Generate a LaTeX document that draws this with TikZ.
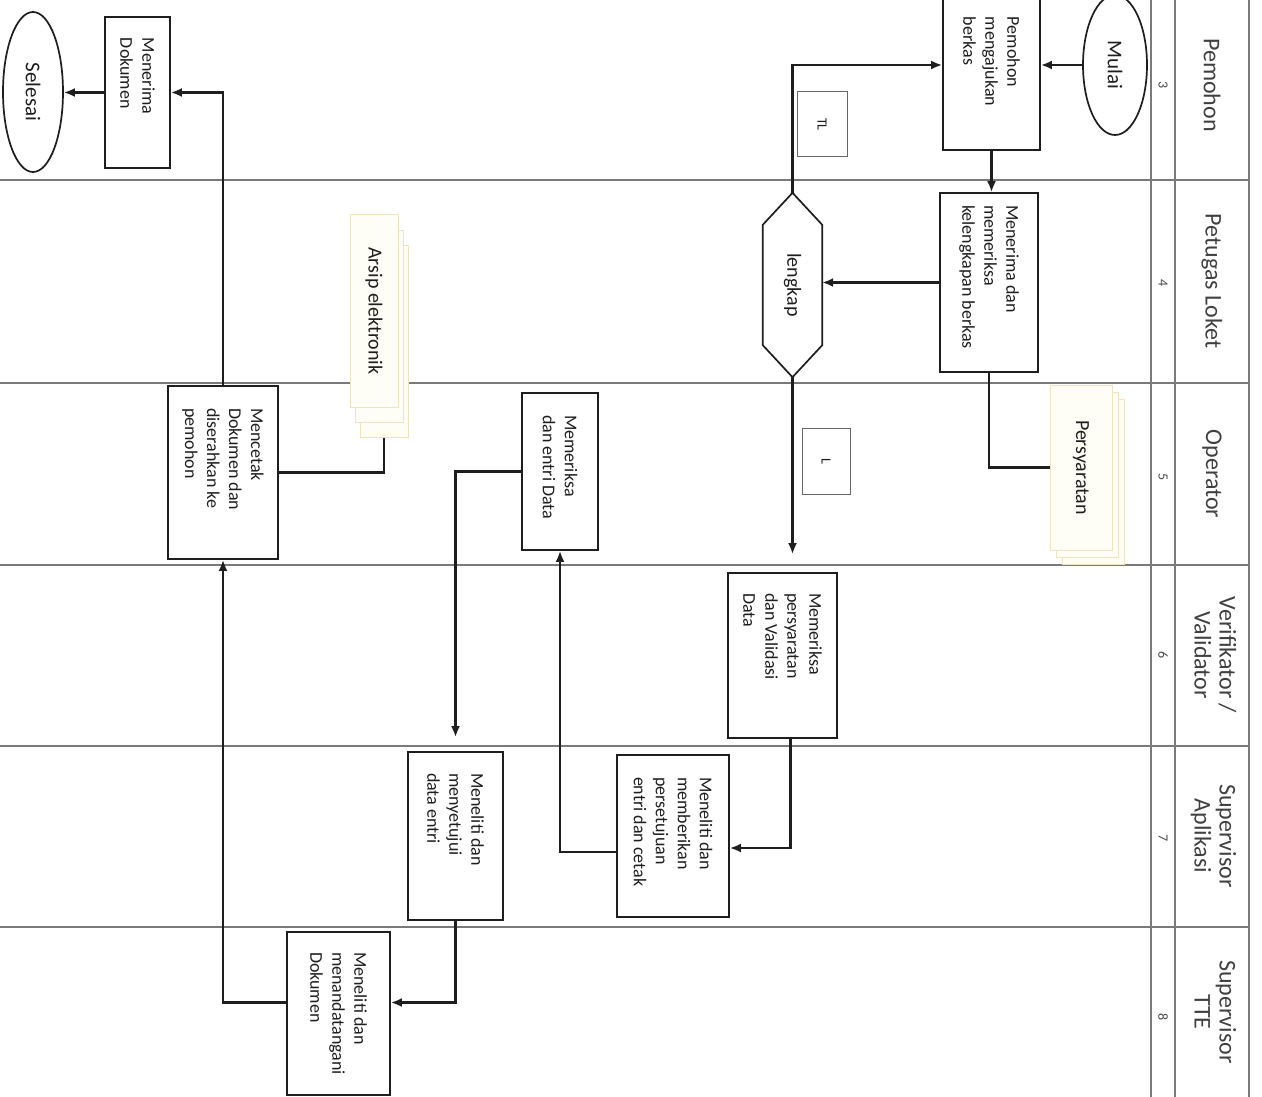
\documentclass[tikz,border=0pt]{standalone}
\usepackage{fontspec}
\setmainfont{Carlito}
\usetikzlibrary{arrows.meta,shapes.geometric,calc}
\definecolor{ink}{HTML}{1E1E1E}
\definecolor{gridc}{HTML}{7A7A7A}
\definecolor{pageline}{HTML}{EEE4C2}
\definecolor{pagefill}{HTML}{FFFEF6}
\newcommand{\rotpar}[2]{\rotatebox{-90}{\parbox{#1}{\raggedright\fontsize{18}{22}\selectfont #2}}}
\newcommand{\rotctr}[1]{\rotatebox{-90}{\begin{tabular}{@{}c@{}}#1\end{tabular}}}
\begin{document}
\begin{tikzpicture}[x=1pt,y=-1pt,
  laneline/.style={draw=gridc, line width=1.1pt},
  lanelbl/.style={inner sep=0pt, text=black!75, font=\fontsize{24}{25}\selectfont},
  numlbl/.style={inner sep=0pt, text=black!70, font=\fontsize{14}{14}\selectfont},
  flowbox/.style={draw=ink, line width=1.7pt, inner sep=0pt, fill=white, text=ink},
  termnode/.style={ellipse, draw=ink, line width=1.7pt, inner sep=0pt, fill=white, text=ink, font=\fontsize{21}{21}\selectfont},
  tagbox/.style={draw=black!60, line width=1pt, inner sep=0pt, fill=white, text=ink, font=\fontsize{14}{14}\selectfont},
  docpage/.style={draw=pageline, line width=1pt, fill=pagefill, inner sep=0pt, text=ink, font=\fontsize{20}{20}\selectfont},
  conn/.style={draw=ink, line width=2.4pt},
  arr/.style={conn, -{Latex[length=11pt,width=9pt]}}
]
\useasboundingbox (0,0) rectangle (1262,1097);
\fill[white] (0,0) rectangle (1262,1097);

% swimlane grid
\foreach \yy in {180,383,565,746,927} \draw[laneline] (0,\yy) -- (1249,\yy);
\foreach \xx in {1151,1175,1249} \draw[laneline] (\xx,-5) -- (\xx,1102);

% lane labels
\node[lanelbl] (l1) at (1212,85) {\rotatebox{-90}{Pemohon}};
\node[lanelbl] (l2) at (1212,281) {\rotatebox{-90}{Petugas Loket}};
\node[lanelbl] (l3) at (1212,474) {\rotatebox{-90}{Operator}};
\node[lanelbl] (l4) at (1212,655) {\rotctr{Verifikator /\\Validator}};
\node[lanelbl] (l5) at (1212,836) {\rotctr{Supervisor\\Aplikasi}};
\node[lanelbl] (l6) at (1212,1012) {\rotctr{Supervisor\\TTE}};

% lane numbers
\node[numlbl] (n3) at (1163,85) {\rotatebox{-90}{3}};
\node[numlbl] (n4) at (1163,283) {\rotatebox{-90}{4}};
\node[numlbl] (n5) at (1163,477) {\rotatebox{-90}{5}};
\node[numlbl] (n6) at (1163,655) {\rotatebox{-90}{6}};
\node[numlbl] (n7) at (1163,838) {\rotatebox{-90}{7}};
\node[numlbl] (n8) at (1163,1017) {\rotatebox{-90}{8}};

% document stacks
\node[docpage, minimum width=62pt, minimum height=165pt] (persC) at (1093,481.5) {};
\node[docpage, minimum width=62pt, minimum height=165pt] (persB) at (1087,474.5) {};
\node[docpage, minimum width=62pt, minimum height=165pt] (persF) at (1081,467.5) {\rotatebox{-90}{Persyaratan}};

\node[docpage, minimum width=48pt, minimum height=192pt] (arsC) at (384,341) {};
\node[docpage, minimum width=48pt, minimum height=192pt] (arsB) at (379,326) {};
\node[docpage, minimum width=48pt, minimum height=192pt] (arsF) at (374,311) {\rotatebox{-90}{Arsip elektronik}};

% terminators
\node[termnode, minimum width=64pt, minimum height=140pt] (mulai) at (1115,65) {\rotatebox{-90}{Mulai}};
\node[termnode, minimum width=60pt, minimum height=160pt] (selesai) at (33,92) {\rotatebox{-90}{Selesai}};

% process boxes
\node[flowbox, minimum width=97pt, minimum height=155pt] (b1) at (991.5,72.5) {\rotpar{111pt}{Pemohon\\mengajukan\\berkas}};
\node[flowbox, minimum width=98pt, minimum height=179pt] (b2) at (989,282.5) {\rotpar{155pt}{Menerima dan\\memeriksa\\kelengkapan berkas}};
\node[flowbox, minimum width=109pt, minimum height=165pt] (b3) at (782.5,655.5) {\rotpar{125pt}{Memeriksa\\persyaratan\\dan Validasi\\Data}};
\node[flowbox, minimum width=76pt, minimum height=157pt] (b4) at (560,471.5) {\rotpar{113pt}{Memeriksa\\dan entri Data}};
\node[flowbox, minimum width=112pt, minimum height=162pt] (b5) at (673,836) {\rotpar{118pt}{Meneliti dan\\memberikan\\persetujuan\\entri dan cetak}};
\node[flowbox, minimum width=95pt, minimum height=168pt] (b6) at (455.5,836) {\rotpar{126pt}{Meneliti dan\\menyetujui\\data entri}};
\node[flowbox, minimum width=103pt, minimum height=163pt] (b7) at (338.5,1013.5) {\rotpar{123pt}{Meneliti dan\\menandatangani\\Dokumen}};
\node[flowbox, minimum width=110pt, minimum height=173pt] (b8) at (223,472.5) {\rotpar{129pt}{Mencetak\\Dokumen dan\\diserahkan ke\\pemohon}};
\node[flowbox, minimum width=65pt, minimum height=151pt] (b9) at (137.5,92.5) {\rotpar{109pt}{Menerima\\Dokumen}};

% decision
\node[inner sep=0pt, minimum width=59pt, minimum height=184pt, text=ink, font=\fontsize{20}{20}\selectfont] (dec) at (792.5,285) {\rotatebox{-90}{lengkap}};
\draw[draw=ink, line width=1.7pt]
  (dec.north) -- ([yshift=-32pt]dec.north east) -- ([yshift=32pt]dec.south east)
  -- (dec.south) -- ([yshift=32pt]dec.south west) -- ([yshift=-32pt]dec.north west) -- cycle;

% branch tags
\node[tagbox, minimum width=50pt, minimum height=65pt] (tl) at (822,124.5) {\rotatebox{-90}{TL}};
\node[tagbox, minimum width=48pt, minimum height=66pt] (lt) at (826,461) {\rotatebox{-90}{L}};

% connectors
\draw[arr] (mulai.west) -- (mulai.west -| b1.east);
\draw[arr] (b1.south) -- (b1.south |- b2.north);
\draw[arr] (b2.west) -- (b2.west -| dec.east);
\draw[arr] (dec.north) |- (mulai.west -| b1.west);
\draw[arr, shorten >=18pt] (dec.south) -- (dec.south |- b3.north);
\draw[conn] (b2.south) |- (persF.west);
\draw[arr] ([xshift=8pt]b3.south) |- ([yshift=-12pt]b5.east);
\draw[arr] ([yshift=-16pt]b5.west) -| (b4.south);
\draw[arr, shorten >=14pt] (b4.west) -| (b6.north);
\draw[arr] (b6.south) |- ([yshift=11pt]b7.east);
\draw[arr] ([yshift=11pt]b7.west) -| (b8.south);
\draw[conn] (b8.east) -| (arsC.south);
\draw[arr] (b8.north) |- (b9.east);
\draw[arr] (b9.west) -- (b9.west -| selesai.east);
\end{tikzpicture}
\end{document}
